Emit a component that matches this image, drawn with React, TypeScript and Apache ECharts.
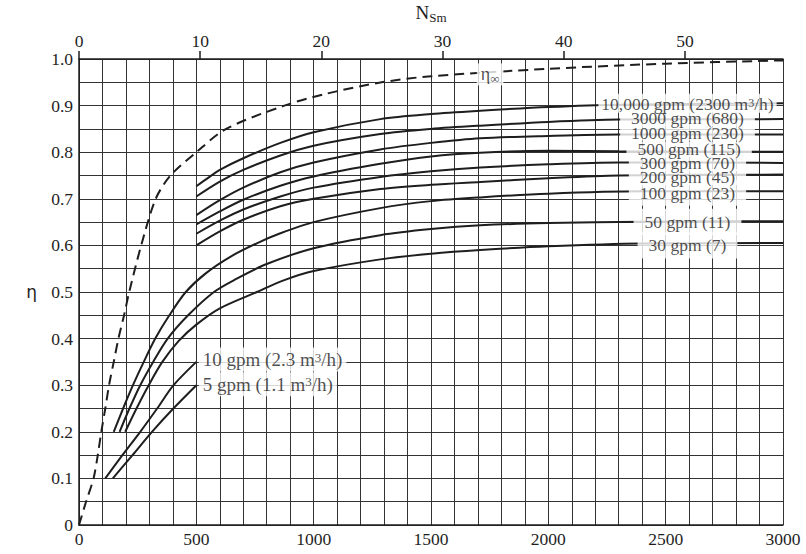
import React, { useEffect, useRef } from "react";
import * as echarts from "echarts";

// Axis ticks / labels
const X_TICKS = [0, 500, 1000, 1500, 2000, 2500, 3000];
const Y_TICKS = [0, 0.1, 0.2, 0.3, 0.4, 0.5, 0.6, 0.7, 0.8, 0.9, 1.0];
const Y_LABELS = ["0", "0.1", "0.2", "0.3", "0.4", "0.5", "0.6", "0.7", "0.8", "0.9", "1.0"];
const TOP_TICKS = [0, 10, 20, 30, 40, 50];
const NS_PER_NSM = 51.64; // n_s (US) per N_Sm (metric)

// η∞ dashed limit curve [n_s, η]
const etaInf: number[][] = [
  [0, 0], [30, 0.05], [62, 0.1], [80, 0.15], [95, 0.2], [112, 0.25], [128, 0.3],
  [148, 0.35], [168, 0.4], [192, 0.45], [214, 0.5], [265, 0.6], [327, 0.7],
  [390, 0.75], [500, 0.8], [627, 0.85], [875, 0.9], [1050, 0.925], [1290, 0.95],
  [1500, 0.963], [2000, 0.979], [2500, 0.99], [3000, 0.997],
];

// Efficiency curves per flow rate [n_s, η]
const gpm10000: number[][] = [
  [500, 0.727], [550, 0.745], [600, 0.762], [700, 0.787], [858, 0.82], [1000, 0.843],
  [1284, 0.871], [1500, 0.882], [1710, 0.889], [2000, 0.897], [2300, 0.902], [3000, 0.905],
];
const gpm3000: number[][] = [
  [500, 0.705], [600, 0.737], [700, 0.762], [858, 0.793], [1000, 0.814], [1284, 0.839],
  [1500, 0.85], [1710, 0.857], [2000, 0.865], [2300, 0.87], [3000, 0.871],
];
const gpm1000: number[][] = [
  [500, 0.665], [600, 0.697], [700, 0.724], [858, 0.757], [1000, 0.778], [1284, 0.806],
  [1500, 0.82], [1710, 0.83], [2000, 0.835], [2300, 0.838], [3000, 0.838],
];
const gpm500: number[][] = [
  [500, 0.645], [600, 0.673], [700, 0.698], [858, 0.728], [1000, 0.748], [1284, 0.775],
  [1500, 0.791], [1710, 0.799], [2000, 0.803], [2300, 0.802], [3000, 0.801],
];
const gpm300: number[][] = [
  [500, 0.625], [600, 0.653], [700, 0.677], [858, 0.705], [1000, 0.724], [1284, 0.747],
  [1500, 0.759], [1710, 0.767], [2000, 0.774], [2300, 0.778], [3000, 0.777],
];
const gpm200: number[][] = [
  [500, 0.6], [600, 0.63], [700, 0.655], [858, 0.684], [1000, 0.7], [1284, 0.721],
  [1500, 0.73], [1710, 0.736], [2000, 0.744], [2300, 0.75], [3000, 0.752],
];
const gpm100: number[][] = [
  [148, 0.2], [188, 0.25], [230, 0.3], [276, 0.35], [325, 0.4], [385, 0.45], [455, 0.5],
  [540, 0.54], [650, 0.577], [760, 0.605], [858, 0.626], [1000, 0.65], [1284, 0.68],
  [1500, 0.695], [1710, 0.703], [2000, 0.711], [2400, 0.716], [3000, 0.716],
];
const gpm50: number[][] = [
  [173, 0.2], [215, 0.25], [261, 0.3], [316, 0.35], [378, 0.4], [465, 0.45], [575, 0.5],
  [666, 0.527], [800, 0.56], [1000, 0.594], [1284, 0.622], [1500, 0.635], [1710, 0.643],
  [2000, 0.648], [2400, 0.651], [3000, 0.652],
];
const gpm30: number[][] = [
  [197, 0.2], [245, 0.25], [297, 0.3], [355, 0.35], [425, 0.395], [500, 0.43], [600, 0.465],
  [758, 0.5], [872, 0.525], [1000, 0.545], [1284, 0.57], [1500, 0.582], [1710, 0.59],
  [2000, 0.598], [2400, 0.604], [3000, 0.605],
];
const gpm10: number[][] = [[112, 0.1], [185, 0.15], [261, 0.2], [333, 0.25], [403, 0.3], [500, 0.35]];
const gpm5: number[][] = [[144, 0.1], [228, 0.15], [311, 0.2], [402, 0.25], [500, 0.3]];

const curves = [gpm10000, gpm3000, gpm1000, gpm500, gpm300, gpm200, gpm100, gpm50, gpm30, gpm10, gpm5];

// Curve labels (right column), top to bottom; {s|3} = superscript
const labelTexts = [
  "10,000 gpm (2300 m{s|3}/h)", "3000 gpm (680)", "1000 gpm (230)", "500 gpm (115)",
  "300 gpm (70)", "200 gpm (45)", "100 gpm (23)", "50 gpm (11)", "30 gpm (7)",
];
const labelX = [2593, 2593, 2593, 2600, 2593, 2593, 2593, 2593, 2593];
const labelY = [0.905, 0.874, 0.842, 0.806, 0.777, 0.747, 0.713, 0.651, 0.6];

// Low-flow labels (left-aligned)
const smallLabelTexts = ["10 gpm (2.3 m{s|3}/h)", "5 gpm (1.1 m{s|3}/h)"];
const smallLabelX = [500, 500];
const smallLabelY = [0.355, 0.302];

// η∞ label
const etaLabelX = 1752;
const etaLabelY = 0.967;

const FONT = "Liberation Serif";
const INK = "#1e1e1e";

export default function App() {
  const ref = useRef<HTMLDivElement>(null);

  useEffect(() => {
    if (!ref.current) return;
    const chart = echarts.init(ref.current, undefined, { renderer: "svg" });

    const isTick = (v: number, ticks: number[]) => ticks.findIndex((t) => Math.abs(t - v) < 1e-6);

    const supRich = (lh: number, fs: number) => ({
      s: { fontSize: fs, fontFamily: FONT, color: INK, lineHeight: lh, verticalAlign: "top", padding: [0, 0, 6, 0] },
    });

    const curveSeries = curves.map((d, i) => ({
      type: "line",
      name: "c" + i,
      data: d,
      xAxisIndex: 0,
      yAxisIndex: 0,
      showSymbol: false,
      symbol: "none",
      smooth: 0.3,
      lineStyle: { color: INK, width: 2 },
      silent: true,
      z: 3,
    }));

    // bottom labels first so upper labels (drawn later) keep their descenders visible
    const labelData: any[] = [];
    for (let i = labelTexts.length - 1; i >= 0; i--) {
      labelData.push({
        value: [labelX[i], labelY[i]],
        label: {
          formatter: labelTexts[i],
          position: "inside",
          fontSize: 17.5,
          lineHeight: 14,
          rich: supRich(14, 12),
          padding: i === 0 ? [3, 3, 2, 3] : i >= 6 ? [6, 11, 6, 11] : [1, 11, 1, 11],
        },
      });
    }
    smallLabelTexts.forEach((t, i) => {
      labelData.push({
        value: [smallLabelX[i], smallLabelY[i]],
        label: {
          formatter: t,
          position: "right",
          distance: 2,
          fontSize: 19,
          lineHeight: 18,
          rich: supRich(18, 13),
          padding: [3, 4, 3, 4],
        },
      });
    });
    labelData.push({
      value: [etaLabelX, etaLabelY],
      label: {
        formatter: "{a|η}{b|∞}",
        position: "inside",
        padding: [0, 4, 0, 4],
        rich: {
          a: { fontSize: 18, fontFamily: FONT, color: INK, lineHeight: 22 },
          b: { fontSize: 13, fontFamily: FONT, color: INK, lineHeight: 22, verticalAlign: "bottom", padding: [8, 0, 0, 0] },
        },
      },
    });

    const option: any = {
      animation: false,
      backgroundColor: "#fff",
      textStyle: { fontFamily: FONT, color: INK },
      grid: { left: 79, right: 23, top: 59, bottom: 29, containLabel: false, outerBoundsMode: "none" },
      xAxis: [
        {
          type: "value",
          position: "bottom",
          min: 0,
          max: 3000,
          interval: 100,
          axisLine: { show: true, onZero: false, lineStyle: { color: INK, width: 1.5 } },
          axisTick: { show: false },
          axisLabel: {
            fontSize: 17.5,
            fontFamily: FONT,
            color: INK,
            margin: 5,
            formatter: (v: number) => (isTick(v, X_TICKS) >= 0 ? String(Math.round(v)) : ""),
          },
          splitLine: { show: true, lineStyle: { color: "#333", width: 1 } },
        },
        {
          type: "value",
          position: "top",
          min: 0,
          max: 3000 / NS_PER_NSM,
          interval: 10,
          name: "{n|N}{s|Sm}",
          nameLocation: "middle",
          nameGap: 35,
          nameTextStyle: {
            rich: {
              n: { fontSize: 19, fontFamily: FONT, color: INK, lineHeight: 24 },
              s: { fontSize: 13, fontFamily: FONT, color: INK, lineHeight: 24, verticalAlign: "bottom", padding: [9, 0, 0, 0] },
            },
          },
          axisLine: { show: true, onZero: false, lineStyle: { color: INK, width: 1.5 } },
          axisTick: { show: true, inside: false, length: 8, customValues: TOP_TICKS, lineStyle: { color: INK, width: 1.5 } },
          axisLabel: {
            fontSize: 17.5,
            fontFamily: FONT,
            color: INK,
            margin: 9,
            customValues: TOP_TICKS,
            formatter: (v: number) => (isTick(v, TOP_TICKS) >= 0 ? String(Math.round(v)) : ""),
          },
          splitLine: { show: false },
        },
      ],
      yAxis: {
        type: "value",
        min: 0,
        max: 1,
        interval: 0.05,
        name: "η",
        nameLocation: "middle",
        nameGap: 42,
        nameRotate: 0,
        nameTextStyle: { fontSize: 17, fontFamily: "DejaVu Sans", color: INK },
        axisLine: { show: true, onZero: false, lineStyle: { color: INK, width: 1.5 } },
        axisTick: { show: false },
        axisLabel: {
          fontSize: 17.5,
          fontFamily: FONT,
          color: INK,
          margin: 6,
          formatter: (v: number) => {
            const k = isTick(v, Y_TICKS);
            return k >= 0 ? Y_LABELS[k] : "";
          },
        },
        splitLine: { show: true, lineStyle: { color: "#333", width: 1 } },
      },
      series: [
        {
          type: "line",
          name: "eta_inf",
          data: etaInf,
          showSymbol: false,
          symbol: "none",
          smooth: 0.3,
          lineStyle: { color: INK, width: 2, type: [10, 6] },
          silent: true,
          z: 3,
        },
        ...curveSeries,
        {
          type: "scatter",
          name: "labels",
          data: labelData,
          symbolSize: 1,
          itemStyle: { color: "rgba(0,0,0,0)" },
          silent: true,
          z: 10,
          label: {
            show: true,
            fontSize: 17,
            fontFamily: FONT,
            color: INK,
            backgroundColor: "#fff",
          },
        },
      ],
    };

    chart.setOption(option);
    return () => chart.dispose();
  }, []);

  return (
    <div
      ref={ref}
      style={{ position: "absolute", left: 0, top: 0, width: 806, height: 554 }}
    />
  );
}
